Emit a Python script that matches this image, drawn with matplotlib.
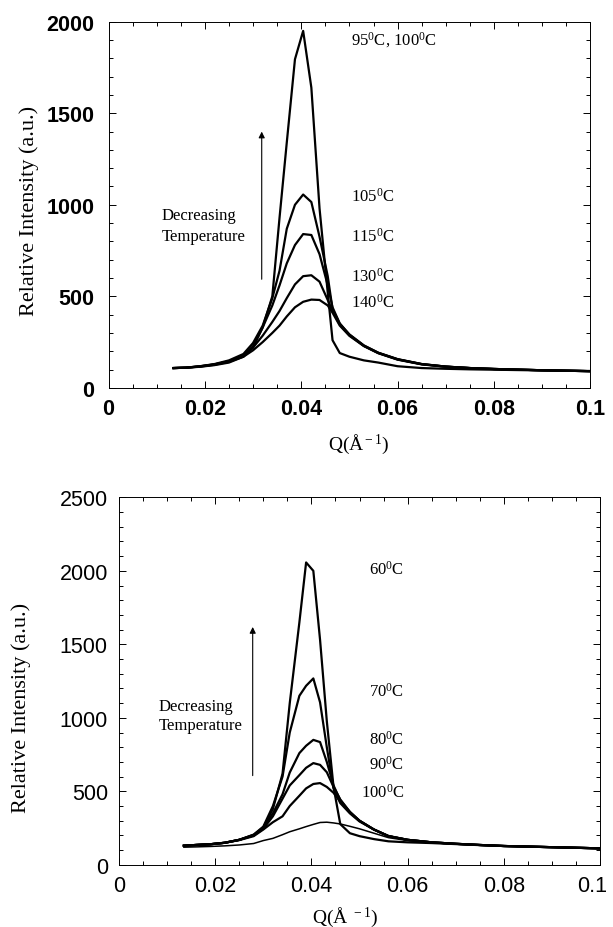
import numpy as np
import matplotlib
matplotlib.use("Agg")
import matplotlib.pyplot as plt
import matplotlib.transforms as mtransforms
from matplotlib.ticker import MultipleLocator

plt.rcParams['mathtext.fontset'] = 'custom'
plt.rcParams['mathtext.rm'] = 'Liberation Serif'
plt.rcParams['mathtext.it'] = 'Liberation Serif:italic'

# top panel: cooling from 140C
q_top = [0.0135, 0.016, 0.019, 0.022, 0.025, 0.028, 0.030, 0.032, 0.034, 0.0355,
         0.037, 0.0387, 0.0404, 0.0421, 0.0438, 0.0455, 0.0465, 0.048, 0.050, 0.053,
         0.056, 0.060, 0.065, 0.070, 0.075, 0.080, 0.090, 0.100]
i_95 = [108, 110, 118, 128, 145, 175, 220, 330, 500, 930, 1340, 1795, 1950, 1640, 980,
        520, 260, 190, 170, 150, 138, 118, 108, 104, 101, 99, 95, 92]
i_105 = [108, 110, 118, 130, 150, 185, 245, 340, 490, 640, 869, 1000, 1056, 1015, 825,
         610, 430, 350, 292, 232, 192, 157, 130, 116, 108, 103, 96, 91]
i_115 = [108, 110, 117, 128, 145, 178, 228, 330, 450, 560, 680, 780, 840, 835, 730,
         560, 440, 352, 290, 230, 191, 156, 130, 116, 108, 103, 96, 91]
i_130 = [108, 110, 116, 126, 142, 170, 220, 285, 360, 420, 490, 565, 610, 615, 580,
         480, 420, 345, 287, 229, 190, 155, 129, 116, 108, 103, 96, 91]
i_140 = [108, 110, 115, 124, 138, 170, 205, 250, 300, 340, 390, 440, 470, 482, 480,
         450, 410, 340, 284, 228, 189, 154, 128, 115, 108, 103, 96, 91]
top_curves = [i_95, i_105, i_115, i_130, i_140]
top_labels = [r'95$^{\rm 0}$C, 100$^{\rm 0}$C', r'105$^{\rm 0}$C', r'115$^{\rm 0}$C',
              r'130$^{\rm 0}$C', r'140$^{\rm 0}$C']
top_label_y = [1906, 1051, 833, 614, 469]

# bottom panel: cooling from 110C
q_bot = [0.0135, 0.016, 0.019, 0.022, 0.025, 0.028, 0.030, 0.032, 0.034, 0.0355,
         0.0375, 0.0389, 0.0404, 0.0418, 0.0432, 0.0446, 0.046, 0.048, 0.050, 0.053,
         0.056, 0.060, 0.065, 0.070, 0.075, 0.080, 0.090, 0.100]
i_60 = [130, 135, 140, 150, 170, 200, 250, 380, 620, 1100, 1649, 2057, 2000, 1530, 978,
        530, 277, 215, 195, 175, 160, 153, 148, 141, 134, 128, 120, 112]
i_70 = [130, 135, 140, 150, 170, 205, 260, 400, 600, 900, 1150, 1218, 1268, 1105, 800,
        520, 420, 350, 295, 240, 197, 170, 153, 143, 135, 128, 120, 112]
i_80 = [130, 135, 140, 150, 170, 205, 255, 350, 480, 628, 760, 810, 850, 835, 700,
        540, 440, 360, 300, 240, 195, 170, 153, 143, 135, 128, 120, 112]
i_90 = [130, 135, 140, 150, 170, 200, 245, 330, 450, 540, 610, 660, 692, 680, 630,
        530, 445, 360, 300, 240, 195, 170, 153, 143, 135, 128, 120, 112]
i_100 = [130, 135, 140, 150, 168, 195, 240, 290, 330, 400, 470, 520, 550, 556, 530,
         490, 430, 355, 300, 240, 195, 170, 153, 143, 135, 128, 120, 112]
i_110 = [120, 122, 125, 129, 135, 145, 165, 180, 205, 225, 245, 260, 275, 288, 290,
         285, 278, 262, 245, 215, 185, 165, 150, 142, 135, 128, 120, 112]
bot_curves = [i_60, i_70, i_80, i_90, i_100, i_110]
bot_lw = [1.6, 1.6, 1.6, 1.6, 1.6, 1.1]
bot_labels = [r'60$^{\rm 0}$C', r'70$^{\rm 0}$C', r'80$^{\rm 0}$C', r'90$^{\rm 0}$C',
              r'100$^{\rm 0}$C']
bot_label_x = [0.0519, 0.0519, 0.0519, 0.0519, 0.0504]
bot_label_y = [2011, 1184, 860, 685, 497]

fig = plt.figure(figsize=(6.13, 9.28), dpi=100)
ax1 = fig.add_axes([0.177, 0.581, 0.786, 0.3945])
ax2 = fig.add_axes([0.194, 0.067, 0.785, 0.396])

serif = 'Liberation Serif'

for ys in top_curves:
    ax1.plot(q_top, ys, color='k', lw=1.6)
for ys, lw in zip(bot_curves, bot_lw):
    ax2.plot(q_bot, ys, color='k', lw=lw)

for t, y in zip(top_labels, top_label_y):
    ax1.text(0.0504, y, t, family=serif, fontsize=12, va='center', ha='left')
for t, x, y in zip(bot_labels, bot_label_x, bot_label_y):
    ax2.text(x, y, t, family=serif, fontsize=12, va='center', ha='left')

ax1.text(0.0111, 942, 'Decreasing', family=serif, fontsize=12, va='center')
ax1.text(0.0111, 829, 'Temperature', family=serif, fontsize=12, va='center')
ax1.annotate('', xy=(0.0318, 1415), xytext=(0.0318, 578),
             arrowprops=dict(arrowstyle='-|>', lw=0.8, color='k', mutation_scale=9))
ax2.text(0.0082, 1082, 'Decreasing', family=serif, fontsize=12, va='center')
ax2.text(0.0082, 952, 'Temperature', family=serif, fontsize=12, va='center')
ax2.annotate('', xy=(0.0278, 1637), xytext=(0.0278, 588),
             arrowprops=dict(arrowstyle='-|>', lw=0.8, color='k', mutation_scale=9))

ax1.set_xlim(0, 0.1)
ax1.set_ylim(0, 2000)
ax2.set_xlim(0, 0.1)
ax2.set_ylim(0, 2500)

for ax, bold, ypad in [(ax1, True, 10), (ax2, False, 8)]:
    ax.set_xticks([0, 0.02, 0.04, 0.06, 0.08, 0.1])
    ax.set_xticklabels(['0', '0.02', '0.04', '0.06', '0.08', '0.1'])
    ax.xaxis.set_minor_locator(MultipleLocator(0.005))
    ax.yaxis.set_major_locator(MultipleLocator(500))
    ax.yaxis.set_minor_locator(MultipleLocator(100))
    ax.tick_params(which='both', direction='in', top=True, right=True, width=0.7)
    ax.tick_params(which='major', length=5)
    ax.tick_params(which='minor', length=3)
    ax.tick_params(axis='x', which='major', pad=7)
    ax.tick_params(axis='y', which='major', pad=ypad)
    for lab in ax.get_xticklabels() + ax.get_yticklabels():
        lab.set_family('Liberation Sans')
        lab.set_fontsize(15.5)
        if bold:
            lab.set_fontweight('bold')
    for s in ax.spines.values():
        s.set_linewidth(0.7)
    ax.set_ylabel('Relative Intensity (a.u.)', family=serif, fontsize=16)

# nudge the last bottom tick label so it stays inside the figure
last = ax2.get_xticklabels()[-1]
last.set_transform(last.get_transform() +
                   mtransforms.ScaledTranslation(-6 / 72, 0, fig.dpi_scale_trans))

ax1.set_xlabel(r'Q(Å$^{\rm -1}$)', family=serif, fontsize=14)
ax2.set_xlabel(r'Q(Å $^{\rm -1}$)', family=serif, fontsize=14)
ax1.yaxis.set_label_coords(-0.145, 0.486)
ax2.yaxis.set_label_coords(-0.183, 0.43)
ax1.xaxis.set_label_coords(0.52, -0.118)
ax2.xaxis.set_label_coords(0.47, -0.106)

fig.savefig('out.png', dpi=100)
